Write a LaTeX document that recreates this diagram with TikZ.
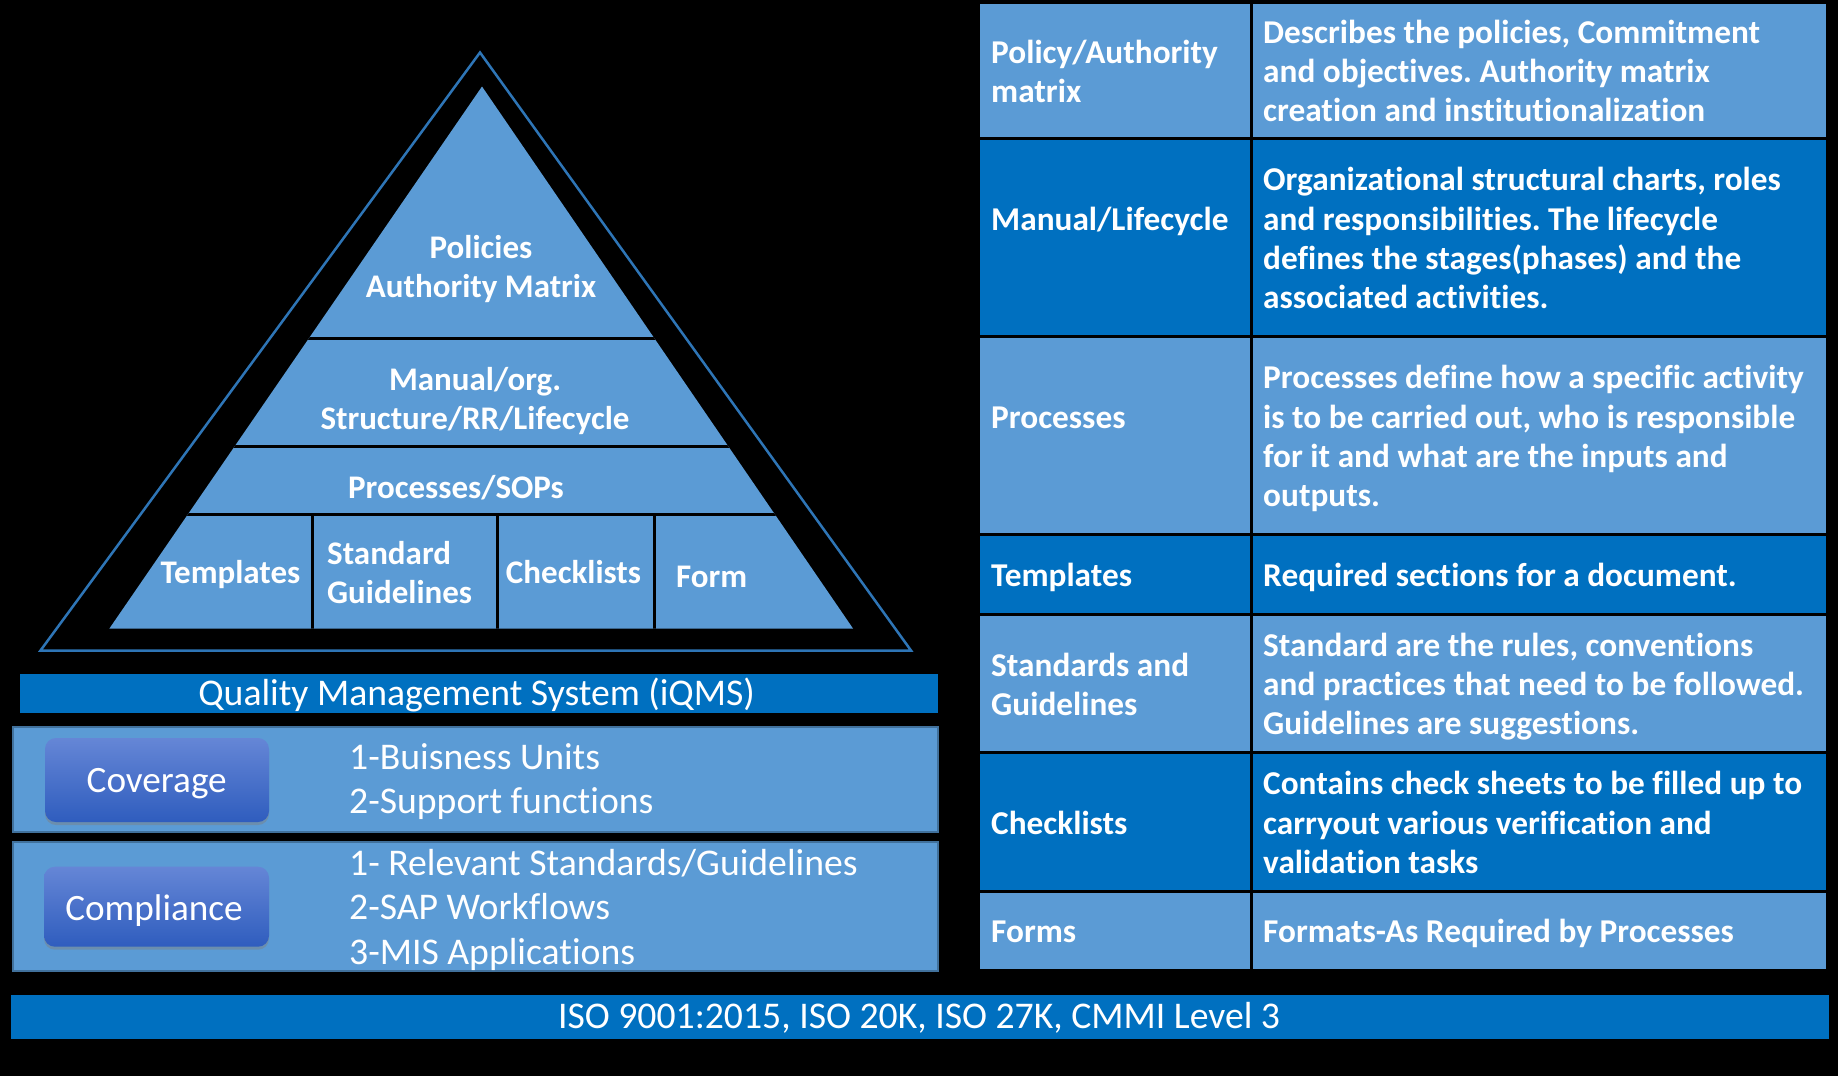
\documentclass[tikz,border=0pt]{standalone}
\usepackage{fontspec}
\setmainfont{Carlito}[RawFeature={-liga}]
\frenchspacing
\usetikzlibrary{shadows}

\definecolor{lightblue}{HTML}{5B9BD5}
\definecolor{deepblue}{HTML}{0070C0}
\definecolor{edgeblue}{HTML}{2E75B6}
\definecolor{panelline}{HTML}{41719C}
\definecolor{btntop}{HTML}{6586D6}
\definecolor{btnbot}{HTML}{2F5DBE}

\tikzset{
  pyr/.style={text=white, inner sep=0pt, font=\fontsize{33}{39}\selectfont\bfseries},
  tab/.style={text=white, inner sep=0pt, anchor=base west, font=\fontsize{33.3}{39}\selectfont\bfseries},
  plain/.style={text=white, inner sep=0pt, font=\fontsize{37.7}{44}\selectfont},
  btntext/.style={text=white, inner sep=0pt, font=\fontsize{37.2}{44}\selectfont},
  cell/.style={draw=black, line width=3pt},
  panel/.style={fill=lightblue, draw=panelline, line width=2pt},
  bar/.style={fill=deepblue},
  button/.style={rounded corners=11pt, top color=btntop, bottom color=btnbot,
    drop shadow={shadow xshift=0pt, shadow yshift=-3pt, opacity=0.45},
    inner sep=0pt},
  sep/.style={draw=black, line width=3pt},
}

\begin{document}
\begin{tikzpicture}[x=1pt, y=-1pt]
  % page background
  \fill[black] (0,0) rectangle (1838,1076);
  \useasboundingbox (0,0) rectangle (1838,1076);

  % ---------- pyramid ----------
  \coordinate (oA) at (480,52.5);
  \coordinate (oL) at (40.5,650.5);
  \coordinate (oR) at (911,650.5);
  \draw[edgeblue, line width=2.5pt] (oA) -- (oL) -- (oR) -- cycle;

  \coordinate (iA) at (482,86.5);
  \coordinate (iL) at (109.4,628.5);
  \coordinate (iR) at (853,628.5);
  \fill[lightblue] (iA) -- (iL) -- (iR) -- cycle;
  \begin{scope}
    \clip (iA) -- (iL) -- (iR) -- cycle;
    \draw[sep] (0,338) -- (940,338);
    \draw[sep] (0,446) -- (940,446);
    \draw[sep] (0,514) -- (940,514);
    \draw[sep] (312.5,514) -- (312.5,640);
    \draw[sep] (497,514) -- (497,640);
    \draw[sep] (654,514) -- (654,640);
  \end{scope}

  \node[pyr, anchor=base] (pol1) at (481,258) {Policies};
  \node[pyr, anchor=base] (pol2) at (481,297) {Authority Matrix};
  \node[pyr, anchor=base] (man1) at (475,390) {Manual/org.};
  \node[pyr, anchor=base] (man2) at (475,429) {Structure/RR/Lifecycle};
  \node[pyr, anchor=base] (proc) at (456,498) {Processes/SOPs};
  \node[pyr, anchor=base] (tpl) at (230.5,583) {Templates};
  \node[pyr, anchor=base west] (std1) at (327,564) {Standard};
  \node[pyr, anchor=base west] (std2) at (327,603) {Guidelines};
  \node[pyr, anchor=base] (chk) at (573.5,583.5) {Checklists};
  \node[pyr, anchor=base west] (frm) at (676,587.5) {Form};

  % ---------- QMS bar and panels ----------
  \fill[bar] (20,674) rectangle (937.5,713.3);
  \node[plain, anchor=base] (qms) at (476.6,705) {Quality Management System (iQMS)};

  \draw[panel] (12.5,726.5) rectangle (937.5,832);
  \draw[panel] (12.5,842) rectangle (937.5,971);

  \node[button, minimum width=224pt, minimum height=84pt] (covbtn) at (157,780) {};
  \node[btntext, anchor=base] (covtxt) at (156.7,792.7) {Coverage};
  \node[button, minimum width=225pt, minimum height=80pt] (cmpbtn) at (156.5,906.7) {};
  \node[btntext, anchor=base] (cmptxt) at (154,920) {Compliance};

  \node[plain, anchor=base west] (cov1) at (349,769) {1-Buisness Units};
  \node[plain, anchor=base west] (cov2) at (349,813.5) {2-Support functions};
  \node[plain, anchor=base west] (cmp1) at (349,875) {1- Relevant Standards/Guidelines};
  \node[plain, anchor=base west] (cmp2) at (349,919.5) {2-SAP Workflows};
  \node[plain, anchor=base west] (cmp3) at (349,964) {3-MIS Applications};

  % ---------- standards bar ----------
  \fill[bar] (10.5,995) rectangle (1828.5,1039);
  \node[plain, anchor=base] (iso) at (919,1028.3) {ISO 9001:2015, ISO 20K, ISO 27K, CMMI Level 3};

  % ---------- table ----------
  \draw[cell, fill=lightblue] (978,2) rectangle (1251,138.5);
  \draw[cell, fill=lightblue] (1251,2) rectangle (1827,138.5);
  \draw[cell, fill=deepblue] (978,138.5) rectangle (1251,336.5);
  \draw[cell, fill=deepblue] (1251,138.5) rectangle (1827,336.5);
  \draw[cell, fill=lightblue] (978,336.5) rectangle (1251,534.5);
  \draw[cell, fill=lightblue] (1251,336.5) rectangle (1827,534.5);
  \draw[cell, fill=deepblue] (978,534.5) rectangle (1251,614);
  \draw[cell, fill=deepblue] (1251,534.5) rectangle (1827,614);
  \draw[cell, fill=lightblue] (978,614) rectangle (1251,752.5);
  \draw[cell, fill=lightblue] (1251,614) rectangle (1827,752.5);
  \draw[cell, fill=deepblue] (978,752.5) rectangle (1251,891);
  \draw[cell, fill=deepblue] (1251,752.5) rectangle (1827,891);
  \draw[cell, fill=lightblue] (978,891) rectangle (1251,970);
  \draw[cell, fill=lightblue] (1251,891) rectangle (1827,970);

  % row 1
  \node[tab] (l1a) at (991,63) {Policy/Authority};
  \node[tab] (l1b) at (991,102.3) {matrix};
  \node[tab] (d1a) at (1263,43.35) {Describes the policies, Commitment};
  \node[tab] (d1b) at (1263,82.65) {and objectives. Authority matrix};
  \node[tab] (d1c) at (1263,121.95) {creation and institutionalization};
  % row 2
  \node[tab] (l2) at (991,230.25) {Manual/Lifecycle};
  \node[tab] (d2a) at (1263,190.95) {Organizational structural charts, roles};
  \node[tab] (d2b) at (1263,230.25) {and responsibilities. The lifecycle};
  \node[tab] (d2c) at (1263,269.55) {defines the stages(phases) and the};
  \node[tab] (d2d) at (1263,308.85) {associated activities.};
  % row 3
  \node[tab] (l3) at (991,428.25) {Processes};
  \node[tab] (d3a) at (1263,388.95) {Processes define how a specific activity};
  \node[tab] (d3b) at (1263,428.25) {is to be carried out, who is responsible};
  \node[tab] (d3c) at (1263,467.55) {for it and what are the inputs and};
  \node[tab] (d3d) at (1263,506.85) {outputs.};
  % row 4
  \node[tab] (l4) at (991,586.65) {Templates};
  \node[tab] (d4) at (1263,586.65) {Required sections for a document.};
  % row 5
  \node[tab] (l5a) at (991,676) {Standards and};
  \node[tab] (l5b) at (991,715.3) {Guidelines};
  \node[tab] (d5a) at (1263,656.35) {Standard are the rules, conventions};
  \node[tab] (d5b) at (1263,695.65) {and practices that need to be followed.};
  \node[tab] (d5c) at (1263,734.95) {Guidelines are suggestions.};
  % row 6
  \node[tab] (l6) at (991,834.15) {Checklists};
  \node[tab] (d6a) at (1263,794.85) {Contains check sheets to be filled up to};
  \node[tab] (d6b) at (1263,834.15) {carryout various verification and};
  \node[tab] (d6c) at (1263,873.45) {validation tasks};
  % row 7
  \node[tab] (l7) at (991,942.9) {Forms};
  \node[tab] (d7) at (1263,942.9) {Formats-As Required by Processes};
\end{tikzpicture}
\end{document}
